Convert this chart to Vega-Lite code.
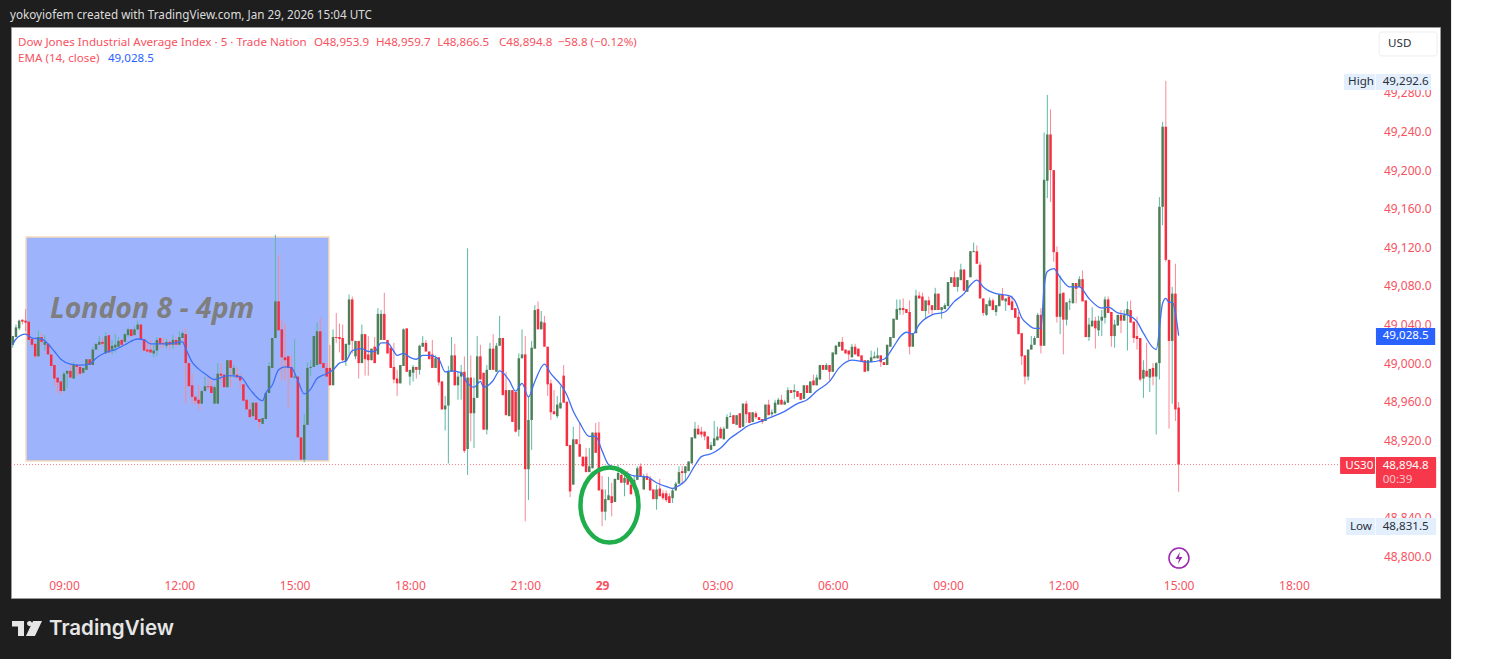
{"$schema":"https://vega.github.io/schema/vega-lite/v6.json","width":1429,"height":571,"autosize":{"type":"none"},"padding":{"left":11,"top":27,"right":55,"bottom":61},"background":"#1e1e1e","view":{"fill":"#ffffff","stroke":"#9a9a9a"},
"datasets":{"candles":[
{"i":-16,"o":49019,"h":49028,"l":49016,"c":49028},{"i":-15,"o":49027,"h":49040,"l":49027,"c":49037},{"i":-14,"o":49036,"h":49045,"l":49034,"c":49044},{"i":-13,"o":49045,"h":49045,"l":49040,"c":49043},{"i":-12,"o":49044,"h":49056,"l":49033,"c":49042},{"i":-11,"o":49043,"h":49043,"l":49024,"c":49024},{"i":-10,"o":49025,"h":49025,"l":49017,"c":49019},{"i":-9,"o":49020,"h":49020,"l":49005,"c":49007},{"i":-8,"o":49007,"h":49034,"l":49007,"c":49027},{"i":-7,"o":49027,"h":49031,"l":49019,"c":49022},{"i":-6,"o":49019,"h":49029,"l":49013,"c":49022},{"i":-5,"o":49020,"h":49020,"l":49009,"c":49009},{"i":-4,"o":49009,"h":49009,"l":48997,"c":48997},{"i":-3,"o":48998,"h":48998,"l":48976,"c":48984},{"i":-2,"o":48985,"h":48985,"l":48969,"c":48980},{"i":-1,"o":48981,"h":48981,"l":48967,"c":48971},
{"i":0,"o":48971,"h":48991,"l":48971,"c":48989},{"i":1,"o":48989,"h":48992,"l":48974,"c":48992},{"i":2,"o":48992,"h":48999,"l":48985,"c":48985},{"i":3,"o":48984,"h":49001,"l":48984,"c":48999},{"i":4,"o":48998,"h":48999,"l":48987,"c":48996},{"i":5,"o":48996,"h":48999,"l":48987,"c":48989},{"i":6,"o":48990,"h":48995,"l":48989,"c":48995},{"i":7,"o":48993,"h":49004,"l":48993,"c":49004},{"i":8,"o":49004,"h":49004,"l":48998,"c":48998},{"i":9,"o":48998,"h":49017,"l":48998,"c":49014},{"i":10,"o":49014,"h":49020,"l":49014,"c":49020},{"i":11,"o":49019,"h":49028,"l":49019,"c":49022},{"i":12,"o":49022,"h":49026,"l":49018,"c":49020},{"i":13,"o":49010,"h":49032,"l":49010,"c":49028},{"i":14,"o":49029,"h":49029,"l":49011,"c":49011},{"i":15,"o":49014,"h":49024,"l":49009,"c":49018},{"i":16,"o":49016,"h":49030,"l":49011,"c":49019},{"i":17,"o":49017,"h":49027,"l":49017,"c":49023},{"i":18,"o":49024,"h":49025,"l":49017,"c":49019},{"i":19,"o":49022,"h":49031,"l":49022,"c":49030},
{"i":20,"o":49029,"h":49037,"l":49027,"c":49035},{"i":21,"o":49035,"h":49035,"l":49028,"c":49028},{"i":22,"o":49029,"h":49038,"l":49029,"c":49035},{"i":23,"o":49035,"h":49044,"l":49034,"c":49040},{"i":24,"o":49040,"h":49040,"l":49025,"c":49025},{"i":25,"o":49025,"h":49025,"l":49012,"c":49013},{"i":26,"o":49014,"h":49022,"l":49011,"c":49012},{"i":27,"o":49014,"h":49024,"l":49010,"c":49011},{"i":28,"o":49010,"h":49019,"l":49006,"c":49013},{"i":29,"o":49013,"h":49027,"l":49007,"c":49024},{"i":30,"o":49026,"h":49027,"l":49015,"c":49020},{"i":31,"o":49021,"h":49026,"l":49016,"c":49020},{"i":32,"o":49018,"h":49025,"l":49015,"c":49022},{"i":33,"o":49022,"h":49024,"l":49014,"c":49019},{"i":34,"o":49019,"h":49029,"l":49015,"c":49024},{"i":35,"o":49024,"h":49027,"l":49017,"c":49019},{"i":36,"o":49019,"h":49033,"l":49019,"c":49027},{"i":37,"o":49026,"h":49033,"l":49026,"c":49031},{"i":38,"o":49030,"h":49036,"l":48958,"c":49000},{"i":39,"o":49000,"h":49000,"l":48976,"c":48976},
{"i":40,"o":48977,"h":48989,"l":48958,"c":48965},{"i":41,"o":48965,"h":48967,"l":48957,"c":48961},{"i":42,"o":48962,"h":48977,"l":48951,"c":48958},{"i":43,"o":48958,"h":48972,"l":48958,"c":48971},{"i":44,"o":48971,"h":48986,"l":48971,"c":48976},{"i":45,"o":48976,"h":48986,"l":48972,"c":48975},{"i":46,"o":48976,"h":48982,"l":48969,"c":48969},{"i":47,"o":48958,"h":48977,"l":48958,"c":48975},{"i":48,"o":48958,"h":49000,"l":48958,"c":48989},{"i":49,"o":48989,"h":49000,"l":48982,"c":48987},{"i":50,"o":48988,"h":48988,"l":48975,"c":48975},{"i":51,"o":48975,"h":49003,"l":48975,"c":49003},{"i":52,"o":49003,"h":49003,"l":48975,"c":48995},{"i":53,"o":48988,"h":48998,"l":48985,"c":48995},{"i":54,"o":48988,"h":48996,"l":48985,"c":48985},{"i":55,"o":48986,"h":48989,"l":48973,"c":48982},{"i":56,"o":48978,"h":48978,"l":48961,"c":48961},{"i":57,"o":48962,"h":48962,"l":48952,"c":48952},{"i":58,"o":48952,"h":48960,"l":48944,"c":48944},{"i":59,"o":48945,"h":48959,"l":48945,"c":48959},
{"i":60,"o":48959,"h":48959,"l":48941,"c":48941},{"i":61,"o":48942,"h":48942,"l":48932,"c":48939},{"i":62,"o":48937,"h":48943,"l":48937,"c":48943},{"i":63,"o":48942,"h":48969,"l":48942,"c":48969},{"i":64,"o":48969,"h":49001,"l":48969,"c":48997},{"i":65,"o":48995,"h":49026,"l":48995,"c":49026},{"i":66,"o":49026,"h":49133,"l":49026,"c":49064},{"i":67,"o":49064,"h":49112,"l":49034,"c":49034},{"i":68,"o":49035,"h":49045,"l":48982,"c":49006},{"i":69,"o":49006,"h":49041,"l":48982,"c":49003},{"i":70,"o":49007,"h":49008,"l":48954,"c":48995},{"i":71,"o":48996,"h":49008,"l":48985,"c":48985},{"i":72,"o":48985,"h":49025,"l":48984,"c":48986},{"i":73,"o":48986,"h":48986,"l":48923,"c":48923},{"i":74,"o":48923,"h":48923,"l":48900,"c":48900},{"i":75,"o":48900,"h":48947,"l":48897,"c":48936},{"i":76,"o":48936,"h":49001,"l":48936,"c":48995},{"i":77,"o":48995,"h":49003,"l":48987,"c":48996},{"i":78,"o":48996,"h":49028,"l":48996,"c":49028},{"i":79,"o":48998,"h":49042,"l":48998,"c":49033},
{"i":80,"o":49033,"h":49047,"l":48999,"c":48999},{"i":81,"o":49000,"h":49000,"l":48995,"c":48995},{"i":82,"o":48995,"h":49000,"l":48986,"c":48986},{"i":83,"o":48995,"h":49019,"l":48977,"c":48977},{"i":84,"o":48977,"h":49035,"l":48977,"c":49027},{"i":85,"o":49027,"h":49052,"l":49021,"c":49026},{"i":86,"o":49027,"h":49041,"l":49011,"c":49025},{"i":87,"o":49026,"h":49040,"l":49002,"c":49003},{"i":88,"o":49002,"h":49020,"l":48997,"c":49020},{"i":89,"o":49019,"h":49071,"l":49007,"c":49066},{"i":90,"o":49066,"h":49069,"l":49010,"c":49023},{"i":91,"o":49007,"h":49023,"l":49004,"c":49023},{"i":92,"o":49023,"h":49023,"l":48984,"c":49000},{"i":93,"o":49000,"h":49040,"l":49000,"c":49030},{"i":94,"o":49030,"h":49030,"l":48987,"c":49004},{"i":95,"o":49009,"h":49028,"l":48987,"c":49003},{"i":96,"o":49003,"h":49015,"l":49003,"c":49015},{"i":97,"o":49017,"h":49027,"l":49000,"c":49000},{"i":98,"o":49009,"h":49057,"l":49009,"c":49051},{"i":99,"o":49024,"h":49055,"l":49024,"c":49051},
{"i":100,"o":49051,"h":49073,"l":49024,"c":49024},{"i":101,"o":49024,"h":49024,"l":49010,"c":49010},{"i":102,"o":49016,"h":49016,"l":48995,"c":48995},{"i":103,"o":48996,"h":49021,"l":48979,"c":48983},{"i":104,"o":48984,"h":48993,"l":48966,"c":48979},{"i":105,"o":48979,"h":48998,"l":48979,"c":48998},{"i":106,"o":48997,"h":49036,"l":48997,"c":49035},{"i":107,"o":49036,"h":49036,"l":48991,"c":48991},{"i":108,"o":48986,"h":48993,"l":48977,"c":48993},{"i":109,"o":48990,"h":48998,"l":48981,"c":48996},{"i":110,"o":48996,"h":48996,"l":48984,"c":48993},{"i":111,"o":48993,"h":49019,"l":48988,"c":49018},{"i":112,"o":49017,"h":49028,"l":49017,"c":49021},{"i":113,"o":49021,"h":49024,"l":49012,"c":49012},{"i":114,"o":49012,"h":49012,"l":49004,"c":49004},{"i":115,"o":49009,"h":49024,"l":48995,"c":48995},{"i":116,"o":48995,"h":49008,"l":48995,"c":49005},{"i":117,"o":49006,"h":49006,"l":48977,"c":48980},{"i":118,"o":48981,"h":48981,"l":48952,"c":48952},{"i":119,"o":48952,"h":48966,"l":48930,"c":48956},
{"i":120,"o":48956,"h":48997,"l":48896,"c":48991},{"i":121,"o":48991,"h":49027,"l":48991,"c":49008},{"i":122,"o":49008,"h":49020,"l":48977,"c":48977},{"i":123,"o":48977,"h":48991,"l":48962,"c":48986},{"i":124,"o":48986,"h":48998,"l":48962,"c":48991},{"i":125,"o":48991,"h":49007,"l":48907,"c":48909},{"i":126,"o":48911,"h":49119,"l":48884,"c":48985},{"i":127,"o":48985,"h":49008,"l":48919,"c":48948},{"i":128,"o":48948,"h":48985,"l":48912,"c":48964},{"i":129,"o":48964,"h":49028,"l":48964,"c":49007},{"i":130,"o":49007,"h":49019,"l":48983,"c":48983},{"i":131,"o":48990,"h":48990,"l":48931,"c":48931},{"i":132,"o":48931,"h":48998,"l":48926,"c":48993},{"i":133,"o":48993,"h":49021,"l":48993,"c":49015},{"i":134,"o":49015,"h":49030,"l":48993,"c":48993},{"i":135,"o":48991,"h":49021,"l":48991,"c":49018},{"i":136,"o":49018,"h":49049,"l":49018,"c":49026},{"i":137,"o":49026,"h":49026,"l":48966,"c":48967},{"i":138,"o":48972,"h":48991,"l":48946,"c":48946},{"i":139,"o":48945,"h":48972,"l":48945,"c":48972},
{"i":140,"o":48972,"h":48972,"l":48939,"c":48939},{"i":141,"o":48970,"h":48970,"l":48928,"c":48929},{"i":142,"o":48931,"h":49010,"l":48924,"c":49005},{"i":143,"o":49005,"h":49035,"l":49005,"c":49009},{"i":144,"o":49009,"h":49028,"l":48836,"c":48890},{"i":145,"o":48890,"h":48966,"l":48858,"c":48941},{"i":146,"o":48941,"h":49023,"l":48910,"c":49016},{"i":147,"o":49015,"h":49060,"l":49015,"c":49055},{"i":148,"o":49056,"h":49064,"l":49035,"c":49035},{"i":149,"o":49035,"h":49054,"l":49035,"c":49043},{"i":150,"o":49042,"h":49049,"l":49017,"c":49017},{"i":151,"o":49017,"h":49017,"l":48966,"c":48978},{"i":152,"o":48979,"h":48983,"l":48941,"c":48949},{"i":153,"o":48950,"h":48972,"l":48947,"c":48947},{"i":154,"o":48945,"h":48966,"l":48943,"c":48957},{"i":155,"o":48953,"h":48976,"l":48953,"c":48959},{"i":156,"o":48987,"h":48998,"l":48959,"c":48959},{"i":157,"o":48960,"h":48960,"l":48914,"c":48914},{"i":158,"o":48915,"h":48915,"l":48861,"c":48867},{"i":159,"o":48874,"h":48934,"l":48874,"c":48921},
{"i":160,"o":48921,"h":48921,"l":48916,"c":48916},{"i":161,"o":48916,"h":48938,"l":48903,"c":48903},{"i":162,"o":48903,"h":48903,"l":48893,"c":48893},{"i":163,"o":48903,"h":48912,"l":48887,"c":48887},{"i":164,"o":48887,"h":48912,"l":48887,"c":48893},{"i":165,"o":48891,"h":48928,"l":48891,"c":48928},{"i":166,"o":48928,"h":48938,"l":48907,"c":48907},{"i":167,"o":48928,"h":48939,"l":48868,"c":48868},{"i":168,"o":48869,"h":48883,"l":48831,"c":48846},{"i":169,"o":48846,"h":48869,"l":48837,"c":48859},{"i":170,"o":48858,"h":48882,"l":48858,"c":48863},{"i":171,"o":48862,"h":48876,"l":48841,"c":48855},{"i":172,"o":48856,"h":48880,"l":48856,"c":48880},{"i":173,"o":48879,"h":48895,"l":48879,"c":48886},{"i":174,"o":48884,"h":48890,"l":48876,"c":48876},{"i":175,"o":48876,"h":48886,"l":48862,"c":48881},{"i":176,"o":48883,"h":48888,"l":48874,"c":48874},{"i":177,"o":48874,"h":48876,"l":48864,"c":48864},{"i":178,"o":48874,"h":48883,"l":48874,"c":48879},{"i":179,"o":48879,"h":48893,"l":48879,"c":48891},
{"i":180,"o":48893,"h":48896,"l":48883,"c":48883},{"i":181,"o":48869,"h":48885,"l":48869,"c":48883},{"i":182,"o":48883,"h":48886,"l":48879,"c":48879},{"i":183,"o":48880,"h":48883,"l":48868,"c":48868},{"i":184,"o":48869,"h":48869,"l":48859,"c":48859},{"i":185,"o":48859,"h":48874,"l":48848,"c":48869},{"i":186,"o":48870,"h":48880,"l":48862,"c":48862},{"i":187,"o":48865,"h":48868,"l":48858,"c":48860},{"i":188,"o":48865,"h":48868,"l":48856,"c":48858},{"i":189,"o":48862,"h":48865,"l":48855,"c":48855},{"i":190,"o":48860,"h":48870,"l":48855,"c":48868},{"i":191,"o":48868,"h":48877,"l":48868,"c":48875},{"i":192,"o":48875,"h":48893,"l":48875,"c":48887},{"i":193,"o":48888,"h":48893,"l":48875,"c":48886},{"i":194,"o":48886,"h":48893,"l":48878,"c":48893},{"i":195,"o":48888,"h":48898,"l":48888,"c":48898},{"i":196,"o":48896,"h":48923,"l":48896,"c":48923},{"i":197,"o":48922,"h":48939,"l":48922,"c":48932},{"i":198,"o":48932,"h":48936,"l":48926,"c":48926},{"i":199,"o":48929,"h":48934,"l":48923,"c":48926},
{"i":200,"o":48929,"h":48929,"l":48920,"c":48924},{"i":201,"o":48924,"h":48924,"l":48911,"c":48911},{"i":202,"o":48910,"h":48918,"l":48910,"c":48915},{"i":203,"o":48914,"h":48940,"l":48914,"c":48922},{"i":204,"o":48920,"h":48934,"l":48920,"c":48924},{"i":205,"o":48932,"h":48934,"l":48922,"c":48922},{"i":206,"o":48921,"h":48934,"l":48921,"c":48932},{"i":207,"o":48932,"h":48947,"l":48932,"c":48944},{"i":208,"o":48944,"h":48949,"l":48944,"c":48945},{"i":209,"o":48946,"h":48946,"l":48937,"c":48937},{"i":210,"o":48936,"h":48946,"l":48936,"c":48946},{"i":211,"o":48948,"h":48948,"l":48933,"c":48933},{"i":212,"o":48934,"h":48958,"l":48934,"c":48958},{"i":213,"o":48958,"h":48961,"l":48938,"c":48947},{"i":214,"o":48949,"h":48949,"l":48938,"c":48938},{"i":215,"o":48939,"h":48949,"l":48939,"c":48949},{"i":216,"o":48948,"h":48950,"l":48942,"c":48944},{"i":217,"o":48944,"h":48944,"l":48941,"c":48941},{"i":218,"o":48942,"h":48942,"l":48937,"c":48939},{"i":219,"o":48940,"h":48957,"l":48940,"c":48957},
{"i":220,"o":48957,"h":48962,"l":48946,"c":48946},{"i":221,"o":48947,"h":48952,"l":48945,"c":48949},{"i":222,"o":48948,"h":48962,"l":48948,"c":48959},{"i":223,"o":48957,"h":48964,"l":48957,"c":48962},{"i":224,"o":48962,"h":48967,"l":48957,"c":48957},{"i":225,"o":48957,"h":48962,"l":48957,"c":48960},{"i":226,"o":48959,"h":48975,"l":48959,"c":48972},{"i":227,"o":48972,"h":48972,"l":48969,"c":48969},{"i":228,"o":48970,"h":48978,"l":48963,"c":48972},{"i":229,"o":48971,"h":48971,"l":48965,"c":48965},{"i":230,"o":48969,"h":48969,"l":48962,"c":48962},{"i":231,"o":48963,"h":48977,"l":48963,"c":48977},{"i":232,"o":48977,"h":48977,"l":48969,"c":48969},{"i":233,"o":48969,"h":48981,"l":48969,"c":48981},{"i":234,"o":48982,"h":48988,"l":48977,"c":48977},{"i":235,"o":48977,"h":48988,"l":48977,"c":48985},{"i":236,"o":48983,"h":48998,"l":48983,"c":48998},{"i":237,"o":48998,"h":48998,"l":48993,"c":48993},{"i":238,"o":48993,"h":49000,"l":48993,"c":48998},{"i":239,"o":48998,"h":48998,"l":48982,"c":48991},
{"i":240,"o":48991,"h":49011,"l":48991,"c":49011},{"i":241,"o":49009,"h":49019,"l":49009,"c":49018},{"i":242,"o":49017,"h":49022,"l":49017,"c":49022},{"i":243,"o":49022,"h":49027,"l":49013,"c":49013},{"i":244,"o":49014,"h":49014,"l":49010,"c":49010},{"i":245,"o":49013,"h":49013,"l":49003,"c":49009},{"i":246,"o":49006,"h":49020,"l":49006,"c":49017},{"i":247,"o":49017,"h":49020,"l":49009,"c":49009},{"i":248,"o":49015,"h":49015,"l":49007,"c":49007},{"i":249,"o":49008,"h":49008,"l":49001,"c":49001},{"i":250,"o":49003,"h":49003,"l":48991,"c":48991},{"i":251,"o":48992,"h":49003,"l":48991,"c":49003},{"i":252,"o":49001,"h":49013,"l":49001,"c":49006},{"i":253,"o":49005,"h":49012,"l":49005,"c":49007},{"i":254,"o":49005,"h":49016,"l":49005,"c":49008},{"i":255,"o":49008,"h":49008,"l":48996,"c":49001},{"i":256,"o":49001,"h":49001,"l":48998,"c":48998},{"i":257,"o":48998,"h":49019,"l":48998,"c":49019},{"i":258,"o":49017,"h":49027,"l":49017,"c":49027},{"i":259,"o":49026,"h":49046,"l":49026,"c":49046},
{"i":260,"o":49045,"h":49066,"l":49045,"c":49056},{"i":261,"o":49055,"h":49066,"l":49050,"c":49057},{"i":262,"o":49057,"h":49067,"l":49050,"c":49055},{"i":263,"o":49056,"h":49056,"l":49052,"c":49052},{"i":264,"o":49053,"h":49065,"l":49009,"c":49017},{"i":265,"o":49017,"h":49031,"l":49017,"c":49031},{"i":266,"o":49031,"h":49076,"l":49031,"c":49070},{"i":267,"o":49070,"h":49074,"l":49067,"c":49067},{"i":268,"o":49069,"h":49073,"l":49054,"c":49054},{"i":269,"o":49054,"h":49065,"l":49046,"c":49065},{"i":270,"o":49065,"h":49069,"l":49051,"c":49060},{"i":271,"o":49060,"h":49060,"l":49050,"c":49055},{"i":272,"o":49055,"h":49078,"l":49055,"c":49072},{"i":273,"o":49072,"h":49072,"l":49055,"c":49055},{"i":274,"o":49055,"h":49058,"l":49046,"c":49058},{"i":275,"o":49056,"h":49062,"l":49056,"c":49060},{"i":276,"o":49059,"h":49084,"l":49059,"c":49084},{"i":277,"o":49083,"h":49089,"l":49083,"c":49089},{"i":278,"o":49089,"h":49095,"l":49079,"c":49079},{"i":279,"o":49079,"h":49089,"l":49074,"c":49089},
{"i":280,"o":49086,"h":49103,"l":49086,"c":49097},{"i":281,"o":49097,"h":49097,"l":49075,"c":49075},{"i":282,"o":49074,"h":49086,"l":49074,"c":49086},{"i":283,"o":49089,"h":49116,"l":49089,"c":49116},{"i":284,"o":49115,"h":49125,"l":49115,"c":49116},{"i":285,"o":49116,"h":49122,"l":49103,"c":49103},{"i":286,"o":49102,"h":49105,"l":49067,"c":49067},{"i":287,"o":49067,"h":49067,"l":49049,"c":49052},{"i":288,"o":49050,"h":49061,"l":49049,"c":49061},{"i":289,"o":49059,"h":49068,"l":49059,"c":49065},{"i":290,"o":49065,"h":49067,"l":49055,"c":49055},{"i":291,"o":49053,"h":49060,"l":49049,"c":49060},{"i":292,"o":49059,"h":49071,"l":49059,"c":49071},{"i":293,"o":49071,"h":49078,"l":49065,"c":49065},{"i":294,"o":49064,"h":49067,"l":49054,"c":49067},{"i":295,"o":49069,"h":49069,"l":49060,"c":49060},{"i":296,"o":49064,"h":49070,"l":49055,"c":49055},{"i":297,"o":49057,"h":49057,"l":49047,"c":49047},{"i":298,"o":49048,"h":49053,"l":49030,"c":49030},{"i":299,"o":49031,"h":49031,"l":48998,"c":49007},
{"i":300,"o":49008,"h":49008,"l":48978,"c":48986},{"i":301,"o":48986,"h":49014,"l":48982,"c":49014},{"i":302,"o":49014,"h":49028,"l":49014,"c":49019},{"i":303,"o":49019,"h":49028,"l":49019,"c":49026},{"i":304,"o":49026,"h":49052,"l":49026,"c":49050},{"i":305,"o":49050,"h":49057,"l":49010,"c":49018},{"i":306,"o":49018,"h":49239,"l":49018,"c":49190},{"i":307,"o":49189,"h":49278,"l":49171,"c":49237},{"i":308,"o":49237,"h":49263,"l":49167,"c":49200},{"i":309,"o":49200,"h":49200,"l":49105,"c":49115},{"i":310,"o":49115,"h":49121,"l":49042,"c":49048},{"i":311,"o":49048,"h":49091,"l":49030,"c":49072},{"i":312,"o":49073,"h":49073,"l":49009,"c":49045},{"i":313,"o":49045,"h":49063,"l":49039,"c":49063},{"i":314,"o":49063,"h":49067,"l":49055,"c":49064},{"i":315,"o":49062,"h":49083,"l":49062,"c":49083},{"i":316,"o":49083,"h":49083,"l":49062,"c":49077},{"i":317,"o":49079,"h":49090,"l":49079,"c":49087},{"i":318,"o":49087,"h":49096,"l":49064,"c":49064},{"i":319,"o":49065,"h":49065,"l":49027,"c":49027},
{"i":320,"o":49027,"h":49047,"l":49023,"c":49040},{"i":321,"o":49038,"h":49058,"l":49038,"c":49044},{"i":322,"o":49044,"h":49048,"l":49015,"c":49036},{"i":323,"o":49034,"h":49049,"l":49028,"c":49044},{"i":324,"o":49044,"h":49055,"l":49028,"c":49048},{"i":325,"o":49047,"h":49069,"l":49041,"c":49066},{"i":326,"o":49066,"h":49069,"l":49052,"c":49052},{"i":327,"o":49053,"h":49053,"l":49017,"c":49028},{"i":328,"o":49028,"h":49045,"l":49016,"c":49040},{"i":329,"o":49039,"h":49050,"l":49039,"c":49050},{"i":330,"o":49050,"h":49055,"l":49031,"c":49044},{"i":331,"o":49044,"h":49055,"l":49044,"c":49050},{"i":332,"o":49050,"h":49064,"l":49013,"c":49056},{"i":333,"o":49055,"h":49065,"l":49042,"c":49042},{"i":334,"o":49043,"h":49043,"l":49021,"c":49026},{"i":335,"o":49028,"h":49048,"l":49014,"c":49025},{"i":336,"o":49026,"h":49026,"l":48981,"c":48983},{"i":337,"o":48984,"h":49003,"l":48964,"c":48993},{"i":338,"o":48992,"h":49021,"l":48986,"c":48986},{"i":339,"o":48985,"h":48994,"l":48970,"c":48994},
{"i":340,"o":48995,"h":49000,"l":48977,"c":48986},{"i":341,"o":48986,"h":49001,"l":48926,"c":49000},{"i":342,"o":49000,"h":49172,"l":48983,"c":49162},{"i":343,"o":49162,"h":49250,"l":49143,"c":49245},{"i":344,"o":49245,"h":49292.6,"l":49105,"c":49107},{"i":345,"o":49107,"h":49107,"l":48932,"c":49023},{"i":346,"o":49023,"h":49079,"l":48958,"c":49072},{"i":347,"o":49072,"h":49103,"l":48940,"c":48952},{"i":348,"o":48953.9,"h":48959.7,"l":48866.5,"c":48894.8}
],
"ema":[{"i":-16,"v":49019},{"i":-15,"v":49025},{"i":-12,"v":49030},{"i":-10,"v":49026},{"i":-7,"v":49025},{"i":-5,"v":49020},{"i":-3,"v":49012},{"i":-1,"v":49004},{"i":2,"v":48999},{"i":5,"v":48998},{"i":8,"v":48999},{"i":10,"v":49005},{"i":13,"v":49011},{"i":16,"v":49014},{"i":19,"v":49019},{"i":23,"v":49025},{"i":25,"v":49024},{"i":27,"v":49020},{"i":32,"v":49020},{"i":37,"v":49022},{"i":38,"v":49015},{"i":40,"v":49001},{"i":42,"v":48994},{"i":44,"v":48989},{"i":47,"v":48983},{"i":51,"v":48987},{"i":55,"v":48986},{"i":58,"v":48973},{"i":62,"v":48961},{"i":63,"v":48969},{"i":65,"v":48977},{"i":67,"v":48993},{"i":69,"v":48996},{"i":71,"v":48995},{"i":73,"v":48982},{"i":75,"v":48968},{"i":77,"v":48973},{"i":79,"v":48984},{"i":82,"v":48989},{"i":84,"v":48993},{"i":86,"v":49000},{"i":88,"v":49002},{"i":90,"v":49013},{"i":93,"v":49015},{"i":95,"v":49012},{"i":97,"v":49012},{"i":99,"v":49021},{"i":101,"v":49021},{"i":103,"v":49012},{"i":104,"v":49008},{"i":106,"v":49010},{"i":108,"v":49006},{"i":110,"v":49004},{"i":112,"v":49008},{"i":114,"v":49008},{"i":117,"v":49004},{"i":119,"v":48991},{"i":121,"v":48992},{"i":124,"v":48990},{"i":126,"v":48979},{"i":128,"v":48975},{"i":130,"v":48981},{"i":131,"v":48975},{"i":134,"v":48982},{"i":136,"v":48992},{"i":139,"v":48982},{"i":141,"v":48971},{"i":143,"v":48979},{"i":145,"v":48965},{"i":147,"v":48981},{"i":150,"v":48999},{"i":152,"v":48989},{"i":155,"v":48978},{"i":157,"v":48967},{"i":159,"v":48950},{"i":161,"v":48938},{"i":164,"v":48924},{"i":166,"v":48924},{"i":168,"v":48909},{"i":170,"v":48895},{"i":173,"v":48891},{"i":178,"v":48883},{"i":182,"v":48882},{"i":185,"v":48876},{"i":189,"v":48871},{"i":190,"v":48870},{"i":192,"v":48873},{"i":194,"v":48878},{"i":197,"v":48894},{"i":199,"v":48903},{"i":202,"v":48906},{"i":205,"v":48912},{"i":208,"v":48922},{"i":211,"v":48929},{"i":213,"v":48934},{"i":217,"v":48939},{"i":220,"v":48943},{"i":225,"v":48950},{"i":229,"v":48958},{"i":232,"v":48962},{"i":235,"v":48971},{"i":239,"v":48981},{"i":242,"v":48995},{"i":246,"v":49003},{"i":251,"v":49001},{"i":256,"v":49004},{"i":259,"v":49017},{"i":261,"v":49027},{"i":263,"v":49032},{"i":265,"v":49030},{"i":267,"v":49040},{"i":271,"v":49050},{"i":275,"v":49053},{"i":278,"v":49064},{"i":281,"v":49072},{"i":283,"v":49081},{"i":285,"v":49086},{"i":287,"v":49079},{"i":291,"v":49072},{"i":295,"v":49070},{"i":297,"v":49064},{"i":299,"v":49047},{"i":301,"v":49040},{"i":303,"v":49036},{"i":305,"v":49036},{"i":306,"v":49079},{"i":307,"v":49095},{"i":309,"v":49098},{"i":311,"v":49089},{"i":314,"v":49079},{"i":317,"v":49079},{"i":320,"v":49067},{"i":324,"v":49057},{"i":326,"v":49058},{"i":329,"v":49052},{"i":332,"v":49050},{"i":335,"v":49043},{"i":337,"v":49031},{"i":341,"v":49014},{"i":343,"v":49062},{"i":344,"v":49067},{"i":345,"v":49063},{"i":346,"v":49063},{"i":348,"v":49028.5}]},
"layer":[
{"data":{"values":[{"i":433.06,"i2":448.4,"p":49386.8,"p2":48681.8}]},"mark":{"type":"rect","fill":"#ffffff"},"encoding":{"x":{"field":"i","type":"quantitative","scale":{"domain":[-16.55,429.6],"nice":false,"zero":false,"padding":0},"axis":{"title":null,"values":[0,36,72,108,144,168,204,240,276,312,348,384],"labelExpr":"({'0':'09:00','36':'12:00','72':'15:00','108':'18:00','144':'21:00','168':'29','204':'03:00','240':'06:00','276':'09:00','312':'12:00','348':'15:00','384':'18:00'})[datum.value]","orient":"bottom","offset":-13,"domain":false,"ticks":false,"grid":false,"labelPadding":0,"labelColor":"#f7525f","labelFontSize":12,"labelFont":"Noto Sans","labelBaseline":"middle","labelOverlap":false,"labelFontWeight":{"condition":{"test":"datum.value==168","value":"bold"},"value":"normal"}}},"x2":{"field":"i2"},"y":{"field":"p","type":"quantitative","scale":{"domain":[48756.5,49348.4],"nice":false,"zero":false,"padding":0},"axis":{"title":null,"values":[48800,48840,48880,48920,48960,49000,49040,49080,49120,49160,49200,49240,49280],"format":",.1f","orient":"right","offset":-9,"domain":false,"ticks":false,"grid":false,"labelPadding":0,"labelAlign":"right","labelColor":"#f7525f","labelFontSize":12,"labelFont":"Noto Sans","labelOverlap":false}},"y2":{"field":"p2"}}},
{"data":{"values":[{"i":-11.86,"i2":82.74,"p":49130.7,"p2":48898.5}]},"mark":{"type":"rect","fill":"#9db4fc","stroke":"#f5dcbb","strokeWidth":1.5},"encoding":{"x":{"field":"i","type":"quantitative"},"x2":{"field":"i2"},"y":{"field":"p","type":"quantitative"},"y2":{"field":"p2"}}},
{"data":{"values":[{"i":-4.37,"p":49056,"t":"London 8 - 4pm"}]},"mark":{"type":"text","align":"left","baseline":"middle","font":"Open Sans","fontSize":28.4,"fontWeight":"bold","fontStyle":"italic","fill":"#7f7f7f"},"encoding":{"x":{"field":"i","type":"quantitative"},"y":{"field":"p","type":"quantitative"},"text":{"field":"t"}}},
{"data":{"values":[{"i":-16.55,"i2":398.4,"p":48894.8}]},"mark":{"type":"rule","stroke":"#f77c88","strokeWidth":1,"strokeDash":[1,2]},"encoding":{"x":{"field":"i","type":"quantitative"},"x2":{"field":"i2"},"y":{"field":"p","type":"quantitative"}}},
{"data":{"name":"candles"},"mark":{"type":"rule","strokeWidth":1},"encoding":{"x":{"field":"i","type":"quantitative"},"y":{"field":"h","type":"quantitative"},"y2":{"field":"l"},"color":{"condition":{"test":"datum.c>=datum.o","value":"#5cb8a4"},"value":"#f68a95"}}},
{"data":{"name":"candles"},"mark":{"type":"bar","size":2.5},"encoding":{"x":{"field":"i","type":"quantitative","scale":{"padding":0}},"y":{"field":"o","type":"quantitative"},"y2":{"field":"c"},"color":{"condition":{"test":"datum.c>=datum.o","value":"#4f7f58"},"value":"#f62e40"}}},
{"data":{"name":"ema"},"mark":{"type":"line","stroke":"#3f6ff5","strokeWidth":1.3,"interpolate":"monotone"},"encoding":{"x":{"field":"i","type":"quantitative"},"y":{"field":"v","type":"quantitative"}}},
{"data":{"values":[{"i":170.3,"p":48852.9}]},"mark":{"type":"point","filled":false,"shape":"M -0.773,0 A 0.773 1 0 1 1 0.773 0 A 0.773 1 0 1 1 -0.773 0 Z","size":5625,"stroke":"#1fae4b","strokeWidth":4.5,"opacity":1},"encoding":{"x":{"field":"i","type":"quantitative"},"y":{"field":"p","type":"quantitative"}}},
{"data":{"values":[{"i":399.6,"i2":409.4,"p":49299.7,"p2":49283.1},{"i":409.6,"i2":426.8,"p":49299.7,"p2":49283.1},{"i":400.2,"i2":409.4,"p":48839.4,"p2":48821.8},{"i":409.6,"i2":428.4,"p":48839.4,"p2":48821.8}]},"mark":{"type":"rect","fill":"#e3effd"},"encoding":{"x":{"field":"i","type":"quantitative"},"x2":{"field":"i2"},"y":{"field":"p","type":"quantitative"},"y2":{"field":"p2"}}},
{"data":{"values":[{"i":398.4,"i2":409.3,"p":48902.6,"p2":48885},{"i":409.6,"i2":428.4,"p":48902.6,"p2":48870.5}]},"mark":{"type":"rect","fill":"#f7374a","cornerRadius":1},"encoding":{"x":{"field":"i","type":"quantitative"},"x2":{"field":"i2"},"y":{"field":"p","type":"quantitative"},"y2":{"field":"p2"}}},
{"data":{"values":[{"i":409.6,"i2":428.1,"p":49036.4,"p2":49018.8}]},"mark":{"type":"rect","fill":"#2962ff"},"encoding":{"x":{"field":"i","type":"quantitative"},"x2":{"field":"i2"},"y":{"field":"p","type":"quantitative"},"y2":{"field":"p2"}}},
{"data":{"values":[{"i":410.6,"i2":428.7,"p":49343.2,"p2":49318.4}]},"mark":{"type":"rect","fill":"#ffffff","stroke":"#eeeeee","cornerRadius":3},"encoding":{"x":{"field":"i","type":"quantitative"},"x2":{"field":"i2"},"y":{"field":"p","type":"quantitative"},"y2":{"field":"p2"}}},
{"data":{"values":[{"i":-16.86,"p":49360.9,"t":"yokoyiofem created with TradingView.com, Jan 29, 2026 15:04 UTC"}]},"mark":{"type":"text","align":"left","baseline":"middle","font":"Noto Sans","fontSize":11.7,"fill":"#dcdcdc"},"encoding":{"x":{"field":"i","type":"quantitative"},"y":{"field":"p","type":"quantitative"},"text":{"field":"t"}}},
{"data":{"values":[{"i":-14.36,"p":49331.8,"t":"Dow Jones Industrial Average Index · 5 · Trade Nation"},{"i":78.06,"p":49331.8,"t":"O48,953.9"},{"i":97.4,"p":49331.8,"t":"H48,959.7"},{"i":116.5,"p":49331.8,"t":"L48,866.5"},{"i":135.8,"p":49331.8,"t":"C48,894.8"},{"i":154.2,"p":49331.8,"t":"−58.8 (−0.12%)"},{"i":-14.36,"p":49315.2,"t":"EMA (14, close)"}]},"mark":{"type":"text","align":"left","baseline":"middle","font":"Noto Sans","fontSize":11.6,"fill":"#f7525f"},"encoding":{"x":{"field":"i","type":"quantitative"},"y":{"field":"p","type":"quantitative"},"text":{"field":"t"}}},
{"data":{"values":[{"i":13.7,"p":49315.2,"t":"49,028.5"}]},"mark":{"type":"text","align":"left","baseline":"middle","font":"Noto Sans","fontSize":11.6,"fill":"#2962ff"},"encoding":{"x":{"field":"i","type":"quantitative"},"y":{"field":"p","type":"quantitative"},"text":{"field":"t"}}},
{"data":{"values":[{"i":413.4,"p":49330.8,"t":"USD"},{"i":400.9,"p":49291.4,"t":"High"},{"i":411.7,"p":49291.4,"t":"49,292.6"},{"i":401.5,"p":48830.6,"t":"Low"},{"i":411.7,"p":48830.6,"t":"48,831.5"}]},"mark":{"type":"text","align":"left","baseline":"middle","font":"Noto Sans","fontSize":11.6,"fill":"#2a2e39"},"encoding":{"x":{"field":"i","type":"quantitative"},"y":{"field":"p","type":"quantitative"},"text":{"field":"t"}}},
{"data":{"values":[{"i":400,"p":48893.8,"t":"US30"},{"i":411.7,"p":48893.8,"t":"48,894.8"},{"i":411.7,"p":49027.6,"t":"49,028.5"}]},"mark":{"type":"text","align":"left","baseline":"middle","font":"Noto Sans","fontSize":11.6,"fill":"#ffffff"},"encoding":{"x":{"field":"i","type":"quantitative"},"y":{"field":"p","type":"quantitative"},"text":{"field":"t"}}},
{"data":{"values":[{"i":411.7,"p":48878.8,"t":"00:39"}]},"mark":{"type":"text","align":"left","baseline":"middle","font":"Noto Sans","fontSize":11.6,"fill":"#fbc4ca"},"encoding":{"x":{"field":"i","type":"quantitative"},"y":{"field":"p","type":"quantitative"},"text":{"field":"t"}}},
{"data":{"values":[{"i":348.1,"p":48797.9}]},"mark":{"type":"point","shape":"circle","filled":false,"size":400,"stroke":"#9c27b0","strokeWidth":1.5,"opacity":1},"encoding":{"x":{"field":"i","type":"quantitative"},"y":{"field":"p","type":"quantitative"}}},
{"data":{"values":[{"i":348.1,"p":48797.9}]},"mark":{"type":"point","shape":"M 0.1,-0.6 L -0.35,0.1 H 0 L -0.1,0.6 L 0.35,-0.1 H 0 Z","filled":true,"size":400,"fill":"#9c27b0","opacity":1},"encoding":{"x":{"field":"i","type":"quantitative"},"y":{"field":"p","type":"quantitative"}}},
{"data":{"values":[{"i":-4.68,"p":48724.3,"t":"TradingView"}]},"mark":{"type":"text","align":"left","baseline":"middle","font":"Inter","fontSize":20.5,"fontWeight":600,"fill":"#e6e6e6"},"encoding":{"x":{"field":"i","type":"quantitative"},"y":{"field":"p","type":"quantitative"},"text":{"field":"t"}}},
{"data":{"values":[{"i":-11.55,"p":48725}]},"mark":{"type":"point","shape":"M -1,-0.49 H -0.2 V 0.51 H -0.6 V -0.13 H -1 Z M 0,-0.32 A 0.17 0.17 0 1 1 0.34 -0.32 A 0.17 0.17 0 1 1 0 -0.32 Z M 0.4,-0.49 H 1 L 0.53,0.51 H -0.07 Z","filled":true,"size":900,"fill":"#e6e6e6","opacity":1},"encoding":{"x":{"field":"i","type":"quantitative"},"y":{"field":"p","type":"quantitative"}}}
]}
